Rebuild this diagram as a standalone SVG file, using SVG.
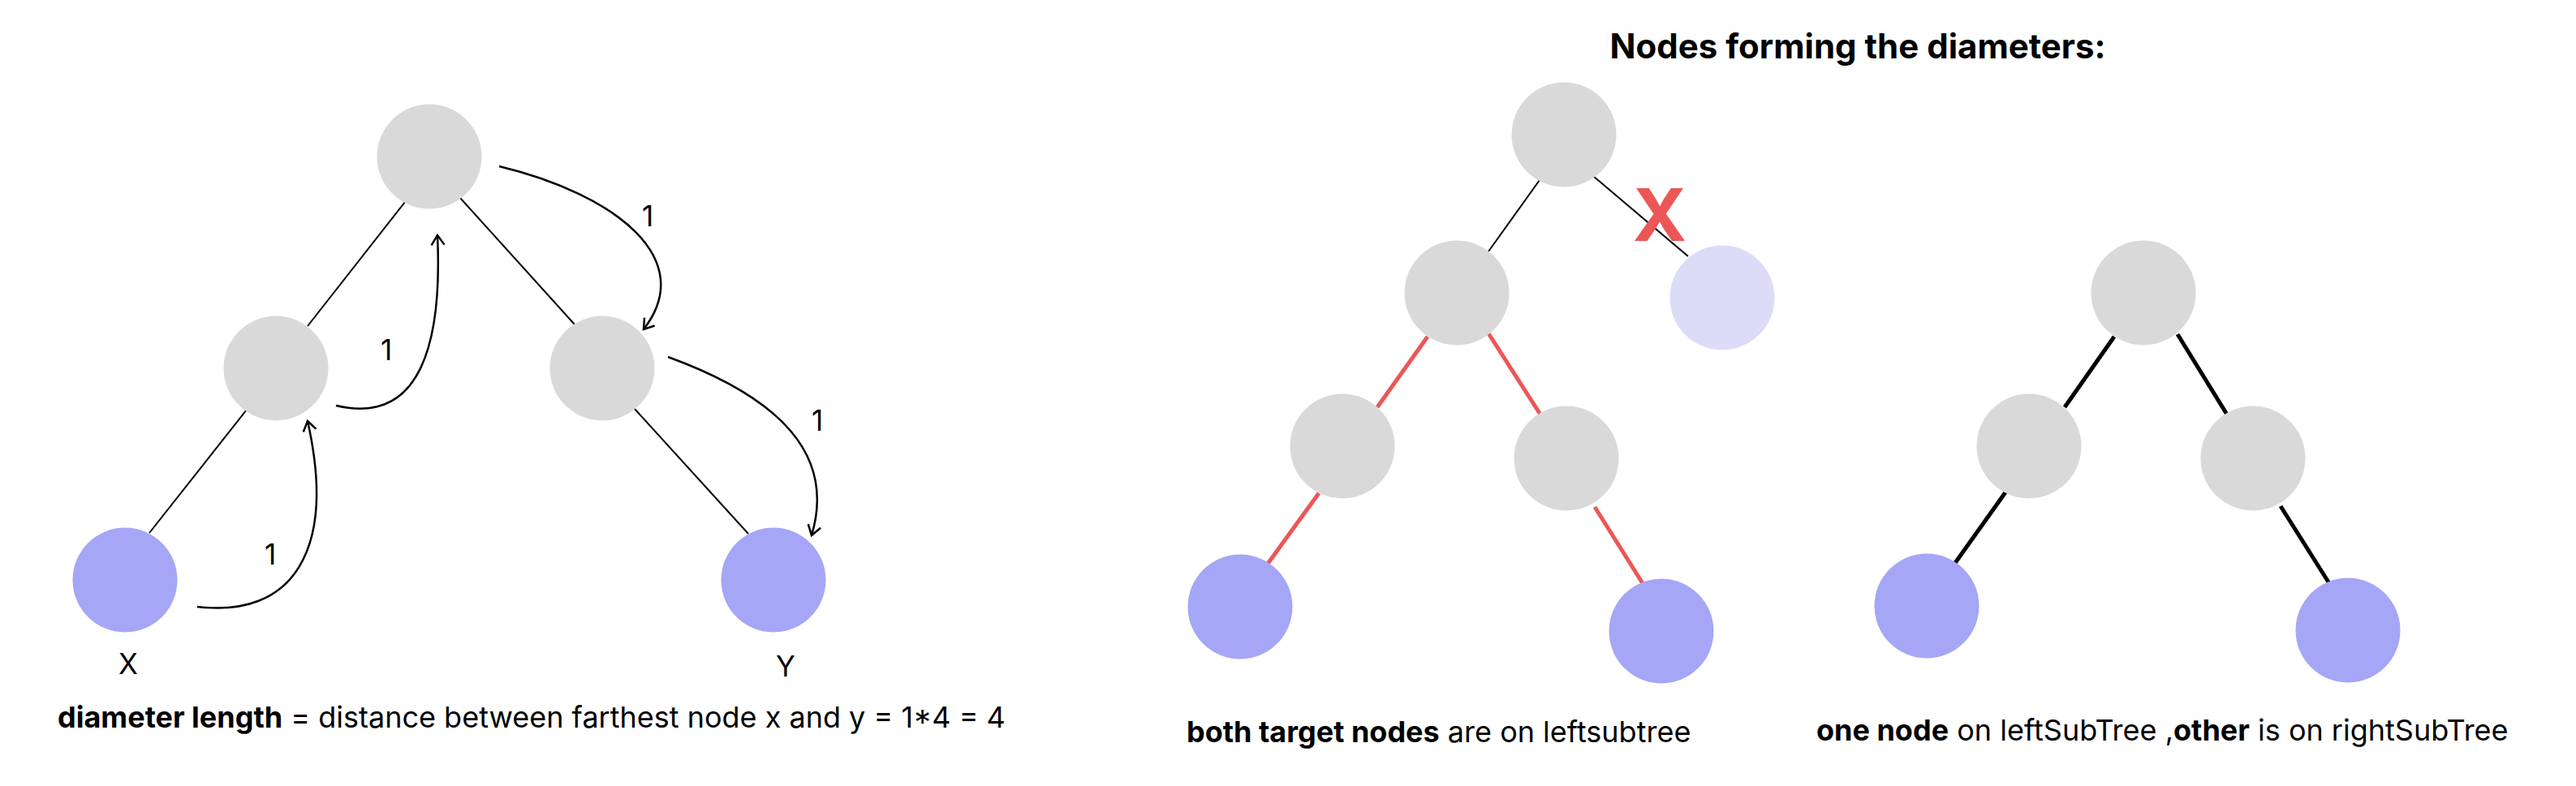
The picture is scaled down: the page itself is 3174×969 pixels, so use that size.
<svg xmlns="http://www.w3.org/2000/svg" width="3174" height="969" viewBox="0 0 3174 969">
<style>
.g{fill:#D9D9D9}
.b{fill:#A5A6F6}
.f{fill:#DCDCF9}
.t{font-family:Inter,"Noto Sans","Liberation Sans",sans-serif;font-size:36px;fill:#000}
.bold{font-weight:700}
.thin{stroke:#000;stroke-width:2;fill:none}
.red{stroke:#EB5757;stroke-width:5;fill:none}
.thick{stroke:#000;stroke-width:5;fill:none}
.arc{stroke:#000;stroke-width:2.5;fill:none}
</style>
<defs>
<marker id="arr" markerUnits="userSpaceOnUse" markerWidth="30" markerHeight="30" refX="0" refY="0" viewBox="-15 -15 30 30" orient="auto" overflow="visible">
<path d="M-12,-8 L0,0 L-12,8" fill="none" stroke="#000" stroke-width="2.5"/>
</marker>
</defs>
<rect width="3174" height="969" fill="#fff"/>

<g id="connectors">
<line class="thin" x1="499" y1="249" x2="379" y2="402"/>
<line class="thin" x1="567" y1="244" x2="708" y2="400"/>
<line class="thin" x1="304" y1="505" x2="184" y2="657"/>
<line class="thin" x1="781" y1="503" x2="922" y2="658"/>
<path class="arc" d="M243,748 C360,762 415,680 379,519" marker-end="url(#arr)"/>
<path class="arc" d="M414,500 C520,525 545,420 539,290" marker-end="url(#arr)"/>
<path class="arc" d="M615,205 C760,240 860,320 793,406" marker-end="url(#arr)"/>
<path class="arc" d="M823,440 C960,490 1030,560 1000,660" marker-end="url(#arr)"/>

<line class="thin" x1="1897" y1="222" x2="1834" y2="310"/>
<line class="thin" x1="1963" y1="217" x2="2080" y2="316"/>
<line class="red" x1="1759" y1="415" x2="1697" y2="502"/>
<line class="red" x1="1834" y1="411" x2="1898" y2="511"/>
<line class="red" x1="1625" y1="608" x2="1562" y2="695"/>
<line class="red" x1="1965" y1="625" x2="2027" y2="724"/>

<line class="thick" x1="2605" y1="415" x2="2544" y2="502"/>
<line class="thick" x1="2683" y1="412" x2="2744" y2="511"/>
<line class="thick" x1="2471" y1="607" x2="2409" y2="694"/>
<line class="thick" x1="2810" y1="624" x2="2873" y2="724"/>
</g>

<g id="left-root"><circle class="g" cx="529" cy="193" r="64.5"/></g>
<g id="left-l"><circle class="g" cx="340" cy="454" r="64.5"/></g>
<g id="left-r"><circle class="g" cx="742" cy="454" r="64.5"/></g>
<g id="left-x"><circle class="b" cx="154" cy="715" r="64.5"/></g>
<g id="left-y"><circle class="b" cx="953" cy="715" r="64.5"/></g>

<g id="mid-root"><circle class="g" cx="1927" cy="166" r="64.5"/></g>
<g id="mid-l"><circle class="g" cx="1795" cy="361" r="64.5"/></g>
<g id="mid-faded"><circle class="f" cx="2122" cy="367" r="64.5"/></g>
<g id="mid-ll"><circle class="g" cx="1654" cy="550" r="64.5"/></g>
<g id="mid-lr"><circle class="g" cx="1930" cy="565" r="64.5"/></g>
<g id="mid-leaf1"><circle class="b" cx="1528" cy="748" r="64.5"/></g>
<g id="mid-leaf2"><circle class="b" cx="2047" cy="778" r="64.5"/></g>

<g id="right-root"><circle class="g" cx="2641" cy="361" r="64.5"/></g>
<g id="right-l"><circle class="g" cx="2500" cy="550" r="64.5"/></g>
<g id="right-r"><circle class="g" cx="2776" cy="565" r="64.5"/></g>
<g id="right-leaf1"><circle class="b" cx="2374" cy="747" r="64.5"/></g>
<g id="right-leaf2"><circle class="b" cx="2893" cy="777" r="64.5"/></g>

<g id="labels">
<text class="t" x="333" y="696" text-anchor="middle" style="font-size:35px">1</text>
<text class="t" x="476" y="444" text-anchor="middle" style="font-size:35px">1</text>
<text class="t" x="798" y="279" text-anchor="middle" style="font-size:35px">1</text>
<text class="t" x="1007" y="531" text-anchor="middle" style="font-size:35px">1</text>
<text class="t" x="158" y="831" text-anchor="middle" style="font-size:35px">X</text>
<text class="t" x="968" y="834" text-anchor="middle" style="font-size:35px">Y</text>
<text class="t" x="71" y="897"><tspan class="bold">diameter length</tspan> = distance between farthest node x and y = 1*4 = 4</text>
<text class="t bold" x="2289" y="72" text-anchor="middle" style="font-size:42px">Nodes forming the diameters:</text>
<text x="2045" y="297" text-anchor="middle" style="font-family:Inter,'Liberation Sans',sans-serif;font-weight:700;font-size:90px;fill:#EB5757">X</text>
<text class="t" x="1462" y="915"><tspan class="bold">both target nodes</tspan> are on leftsubtree</text>
<text class="t" x="2238" y="913"><tspan class="bold">one node</tspan> on leftSubTree ,<tspan class="bold">other</tspan> is on rightSubTree</text>
</g>
</svg>
